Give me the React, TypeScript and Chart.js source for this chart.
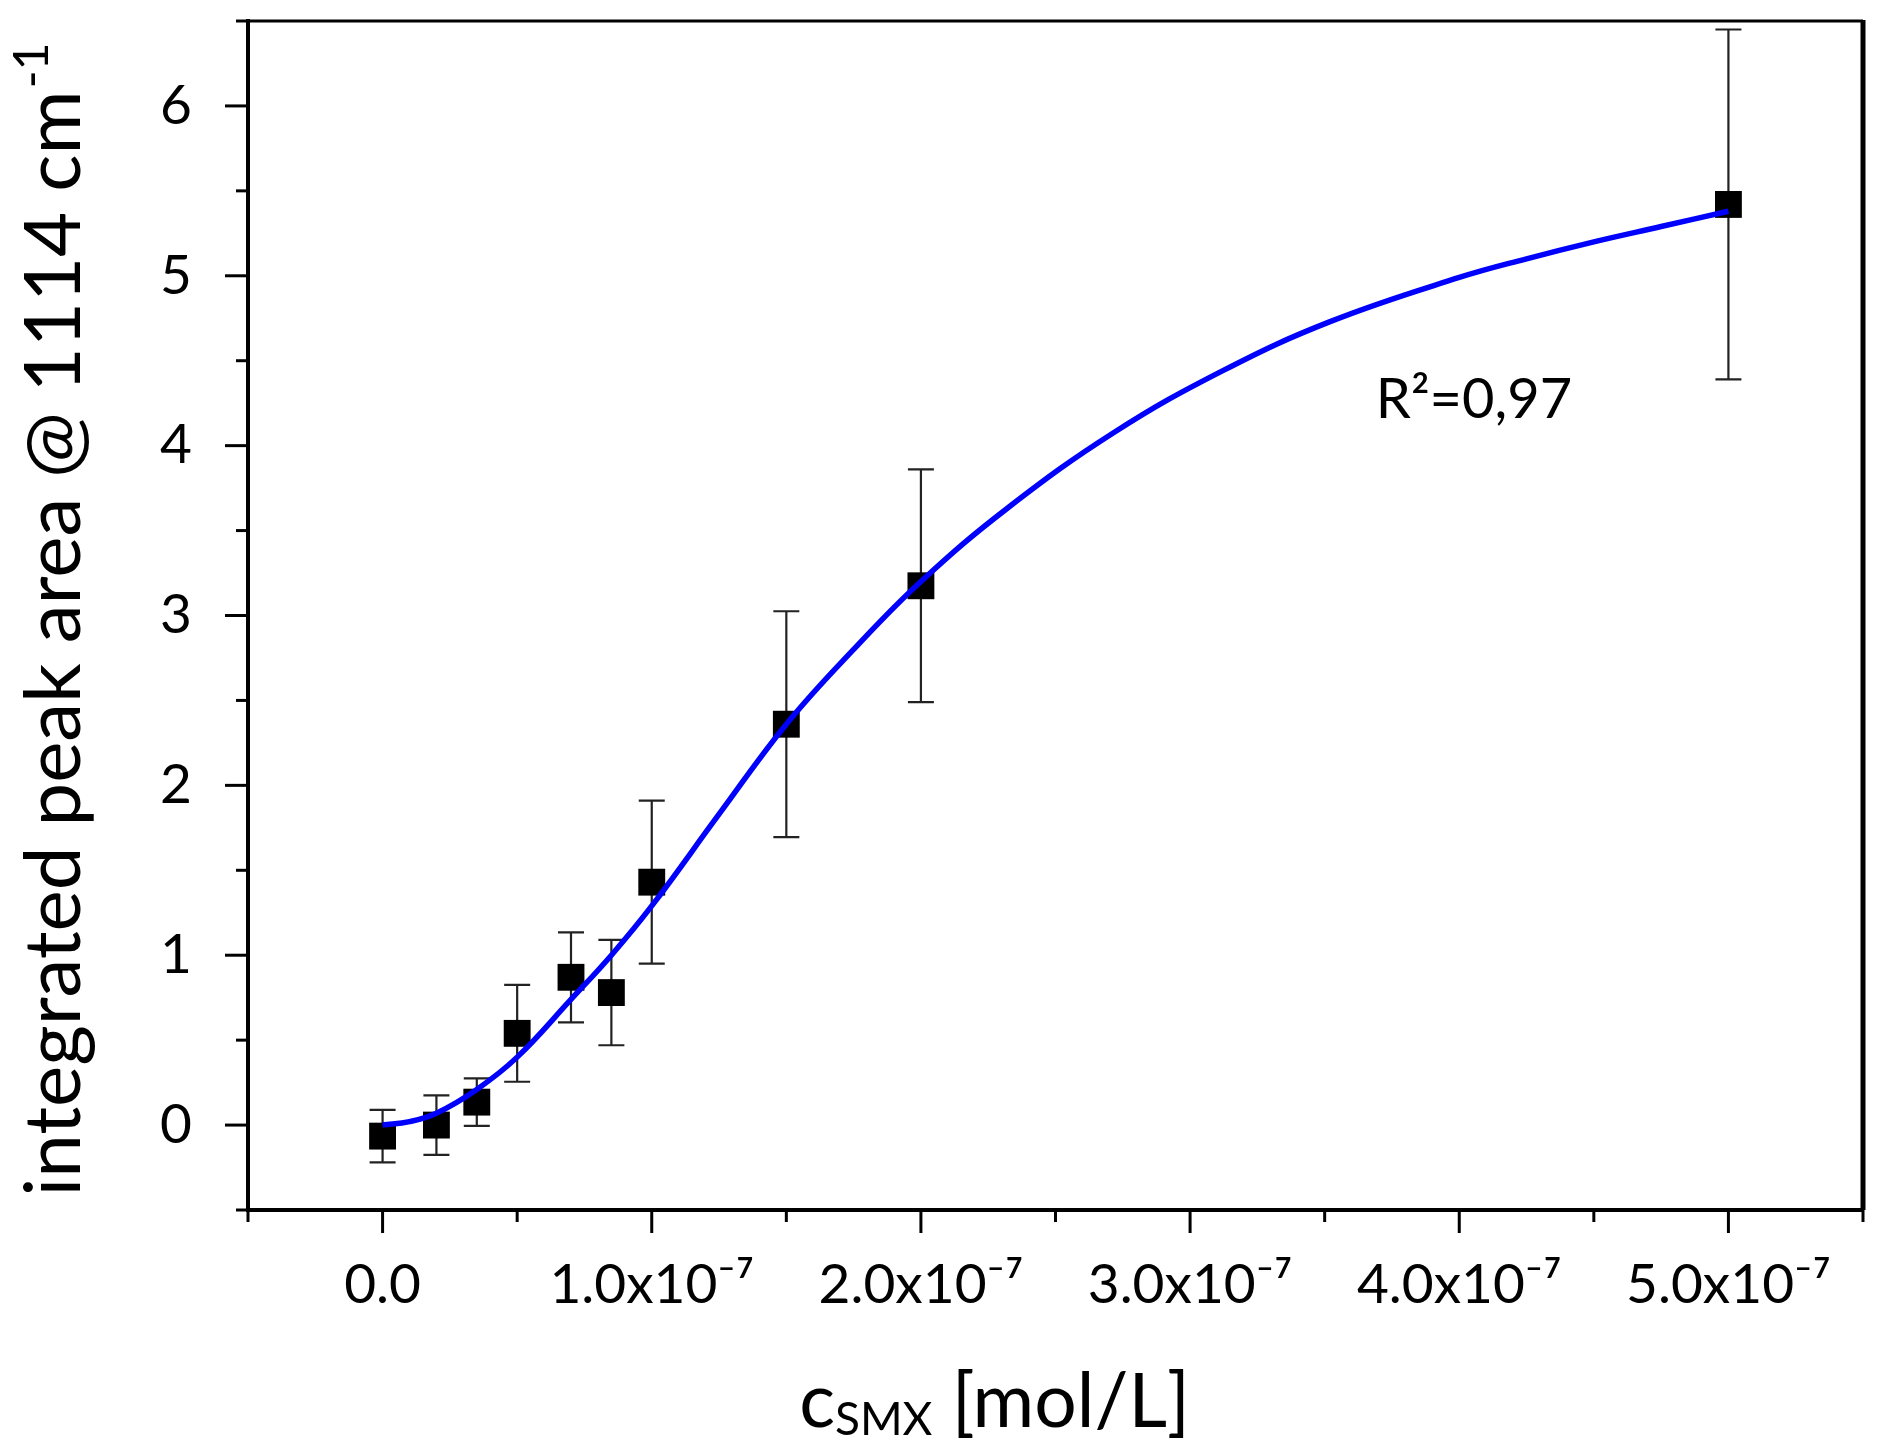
import React, { useEffect, useRef } from 'react';
import { Chart, registerables } from 'chart.js';

Chart.register(...registerables);

// measured points (concentration in mol/L, integrated peak area, error)
const CONC = [0, 0.2e-7, 0.35e-7, 0.5e-7, 0.7e-7, 0.85e-7, 1.0e-7, 1.5e-7, 2.0e-7, 5.0e-7];
const AREA = [-0.065, 0.0, 0.135, 0.54, 0.87, 0.78, 1.43, 2.36, 3.175, 5.42];
const AREA_ERR = [0.155, 0.175, 0.14, 0.285, 0.265, 0.31, 0.48, 0.665, 0.685, 1.03];

// fitted curve
const FIT_X = [0, 0.1e-7, 0.2e-7, 0.35e-7, 0.5e-7, 0.7e-7, 0.85e-7, 1.0e-7, 1.25e-7, 1.5e-7, 1.75e-7, 2.0e-7,
    2.32e-7, 2.72e-7, 3.12e-7, 3.52e-7, 4.0e-7, 4.25e-7, 4.5e-7, 4.75e-7, 5.0e-7];
const FIT_Y = [0, 0.02, 0.07, 0.21, 0.4, 0.74, 1.0, 1.29, 1.83, 2.36, 2.8, 3.2,
    3.63, 4.08, 4.44, 4.73, 4.99, 5.1, 5.2, 5.29, 5.38];

const X_MIN = -0.5e-7;
const X_MAX = 5.5e-7;
const X_STEP = 0.5e-7;
const Y_MIN = -0.5;
const Y_MAX = 6.5;
const Y_STEP = 0.5;

const R2_TEXT = 'R²=0,97';
const R2_X = 3.69e-7;
const R2_Y = 4.16;

const FONT = 'Lato, "Open Sans", sans-serif';

const isMajorX = (v: number) => Math.abs(v / 1e-7 - Math.round(v / 1e-7)) < 1e-3;
const isMajorY = (v: number) => Math.abs(v - Math.round(v)) < 1e-6;

const xLabel = (v: number) => {
    if (!isMajorX(v)) return '';
    const n = Math.round(v / 1e-7);
    if (n === 0) return '0.0';
    return `${n.toFixed(1)}x10⁻⁷`;
};

const errorBars = {
    id: 'errorBars',
    beforeDatasetsDraw(chart: any) {
        const { ctx, scales } = chart;
        const x = scales.x, y = scales.y;
        ctx.save();
        ctx.strokeStyle = '#222';
        ctx.lineWidth = 2.2;
        CONC.forEach((c, i) => {
            const px = x.getPixelForValue(c);
            const top = y.getPixelForValue(AREA[i] + AREA_ERR[i]);
            const bot = y.getPixelForValue(AREA[i] - AREA_ERR[i]);
            ctx.beginPath();
            ctx.moveTo(px, top); ctx.lineTo(px, bot);
            ctx.moveTo(px - 13, top); ctx.lineTo(px + 13, top);
            ctx.moveTo(px - 13, bot); ctx.lineTo(px + 13, bot);
            ctx.stroke();
        });
        ctx.restore();
    },
};

const frameAndText = {
    id: 'frameAndText',
    afterDraw(chart: any) {
        const { ctx, chartArea, scales } = chart;
        const { left, right, top, bottom } = chartArea;
        ctx.save();
        ctx.strokeStyle = '#000';
        // top + right frame
        ctx.lineWidth = 3;
        ctx.beginPath(); ctx.moveTo(left - 2, top); ctx.lineTo(right, top); ctx.stroke();
        ctx.lineWidth = 5;
        ctx.beginPath(); ctx.moveTo(right, top - 1); ctx.lineTo(right, bottom); ctx.stroke();

        // tick marks (major long, minor short), outward
        ctx.lineWidth = 3;
        scales.x.ticks.forEach((t: any, i: number) => {
            const px = scales.x.getPixelForTick(i);
            const len = isMajorX(t.value) ? 23 : 12;
            ctx.beginPath(); ctx.moveTo(px, bottom); ctx.lineTo(px, bottom + len); ctx.stroke();
        });
        scales.y.ticks.forEach((t: any, i: number) => {
            const py = scales.y.getPixelForTick(i);
            const len = isMajorY(t.value) ? 23 : 12;
            ctx.beginPath(); ctx.moveTo(left, py); ctx.lineTo(left - len, py); ctx.stroke();
        });

        ctx.fillStyle = '#000';
        ctx.textBaseline = 'alphabetic';
        ctx.textAlign = 'left';

        // R² annotation
        ctx.font = `56px ${FONT}`;
        ctx.fillText(R2_TEXT, scales.x.getPixelForValue(R2_X), scales.y.getPixelForValue(R2_Y));

        // x title: c_SMX [mol/L]
        const big = `75px ${FONT}`;
        const small = `46px ${FONT}`;
        ctx.font = big;
        const wc = ctx.measureText('c').width;
        const wRest = ctx.measureText(' [mol/L]').width;
        ctx.font = small;
        const wSub = ctx.measureText('SMX').width;
        const total = wc + wSub + wRest;
        let sx = (left + right) / 2 - 61 - total / 2;
        const base = bottom + 217;
        ctx.font = big; ctx.fillText('c', sx, base); sx += wc;
        ctx.font = small; ctx.fillText('SMX', sx, base + 8); sx += wSub;
        ctx.font = big; ctx.fillText(' [mol/L]', sx, base);

        // y title: integrated peak area @ 1114 cm^-1
        const yBig = `78px ${FONT}`;
        const ySmall = `48px ${FONT}`;
        const main = 'integrated peak area @ 1114 cm';
        ctx.font = yBig;
        const wMain = ctx.measureText(main).width;
        ctx.font = ySmall;
        const wSup = ctx.measureText('-1').width;
        const yTotal = wMain + wSup;
        ctx.translate(80, (top + bottom) / 2 + 5 + yTotal / 2);
        ctx.rotate(-Math.PI / 2);
        ctx.font = yBig; ctx.fillText(main, 0, 0);
        ctx.font = ySmall; ctx.fillText('-1', wMain + 2, -32);
        ctx.restore();
    },
};

const App: React.FC = () => {
    const canvasRef = useRef<HTMLCanvasElement | null>(null);
    const chartRef = useRef<Chart | null>(null);

    useEffect(() => {
        if (!canvasRef.current) return;
        const ctx = canvasRef.current.getContext('2d');
        if (!ctx) return;
        if (chartRef.current) chartRef.current.destroy();

        Chart.defaults.font.family = FONT;
        Chart.defaults.color = '#000';

        chartRef.current = new Chart(ctx, {
            type: 'scatter',
            data: {
                datasets: [
                    {
                        type: 'line',
                        label: 'fit',
                        data: FIT_X.map((x, i) => ({ x, y: FIT_Y[i] })),
                        borderColor: '#0000ff',
                        borderWidth: 5.5,
                        pointRadius: 0,
                        tension: 0.4,
                        fill: false,
                    } as any,
                    {
                        type: 'scatter',
                        label: 'measured',
                        data: CONC.map((x, i) => ({ x, y: AREA[i] })),
                        pointStyle: 'rect',
                        pointRadius: 19,
                        backgroundColor: '#000',
                        borderWidth: 0,
                    } as any,
                ],
            },
            options: {
                animation: false,
                responsive: true,
                maintainAspectRatio: false,
                layout: { padding: { top: 21, right: 30, left: 0, bottom: 0 } },
                plugins: {
                    legend: { display: false },
                    tooltip: { enabled: false },
                },
                scales: {
                    x: {
                        type: 'linear',
                        min: X_MIN,
                        max: X_MAX,
                        grid: { display: false },
                        border: { display: true, color: '#000', width: 4 },
                        afterFit: (s: any) => {
                            s.height = 241;
                            s.paddingLeft = 0;
                            s.paddingRight = 0;
                        },
                        afterBuildTicks: (s: any) => {
                            const t = [];
                            for (let k = 0; k <= 12; k++) t.push({ value: X_MIN + k * X_STEP });
                            s.ticks = t;
                        },
                        ticks: {
                            autoSkip: false,
                            maxRotation: 0,
                            minRotation: 0,
                            padding: 34,
                            color: '#000',
                            font: { size: 55, family: FONT },
                            callback: (v: any) => xLabel(Number(v)),
                        },
                    },
                    y: {
                        type: 'linear',
                        min: Y_MIN,
                        max: Y_MAX,
                        grid: { display: false },
                        border: { display: true, color: '#000', width: 4 },
                        afterFit: (s: any) => {
                            s.width = 248;
                            s.paddingTop = 0;
                            s.paddingBottom = 0;
                        },
                        ticks: {
                            stepSize: Y_STEP,
                            autoSkip: false,
                            padding: 48,
                            color: '#000',
                            font: { size: 55, family: FONT },
                            callback: (v: any) => (isMajorY(Number(v)) ? String(Math.round(Number(v))) : ''),
                        },
                    },
                },
            },
            plugins: [errorBars, frameAndText],
        });

        return () => {
            if (chartRef.current) {
                chartRef.current.destroy();
                chartRef.current = null;
            }
        };
    }, []);

    return (
        <div style={{ position: 'fixed', left: 0, top: 0, width: 1893, height: 1451, background: '#fff' }}>
            <canvas ref={canvasRef}></canvas>
        </div>
    );
};

export default App;
